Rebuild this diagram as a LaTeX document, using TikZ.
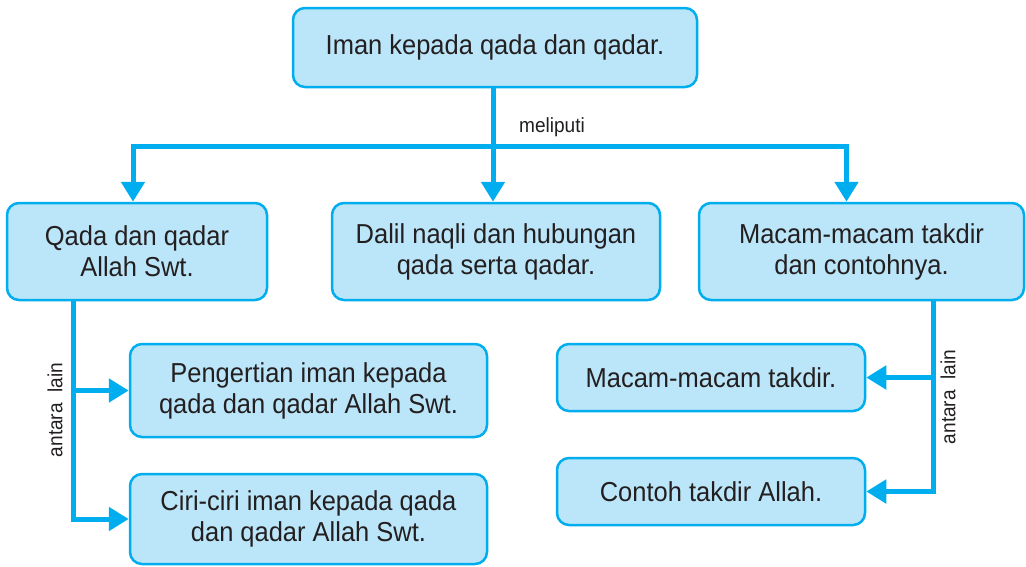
\documentclass[tikz,border=0pt]{standalone}
\usepackage{fontspec}
\setmainfont{Liberation Sans}
\newfontfamily\boxfont[FakeStretch=0.93]{Liberation Sans}
\usetikzlibrary{arrows.meta}
\definecolor{cyanline}{HTML}{00AEEF}
\definecolor{boxfill}{HTML}{BBE5F8}
\definecolor{ink}{HTML}{231F20}
\tikzset{
  box/.style={draw=cyanline, fill=boxfill, line width=2.5pt, rounded corners=12pt,
    inner sep=0pt, align=center, text=ink,
    font=\boxfont\fontsize{27.4}{31}\selectfont},
  conn/.style={draw=cyanline, line width=5pt},
  arr/.style={conn, -{Triangle[length=20pt,width=23pt]}},
  lbl/.style={text=ink, inner sep=0pt, font=\boxfont\fontsize{20.5}{22}\selectfont},
}
\begin{document}
\begin{tikzpicture}[x=1pt,y=-1pt]
\useasboundingbox (0,0) rectangle (1026,566);

% boxes
\node[box, minimum width=404pt, minimum height=79pt] (top) at (495,47.5) {Iman kepada qada dan qadar.};
\node[box, minimum width=260pt, minimum height=97pt] (left) at (137,251.5) {Qada dan qadar\\Allah Swt.};
\node[box, minimum width=328pt, minimum height=97pt] (mid) at (496,251.5) {Dalil naqli dan hubungan\\qada serta qadar.};
\node[box, minimum width=325pt, minimum height=97pt] (right) at (861.5,251.5) {Macam-macam takdir\\dan contohnya.};
\node[box, minimum width=357pt, minimum height=93pt] (peng) at (308.5,390.5) {Pengertian iman kepada\\qada dan qadar Allah Swt.};
\node[box, minimum width=357pt, minimum height=90pt] (ciri) at (308.5,519) {Ciri-ciri iman kepada qada\\dan qadar Allah Swt.};
\node[box, minimum width=308pt, minimum height=67pt] (mac) at (711,377.5) {Macam-macam takdir.};
\node[box, minimum width=308pt, minimum height=67pt] (cont) at (711,491.5) {Contoh takdir Allah.};

% trunk and branches
\coordinate (hub) at (493,146);
\draw[conn] ([xshift=-2pt]top.south) -- (hub);
\draw[arr] (hub) -| ([xshift=-4pt]left.north);
\draw[arr] (hub) -- (hub |- mid.north);
\draw[arr] (hub) -| ([xshift=-15pt]right.north);

\coordinate (lt) at ([xshift=-64pt]left.south);
\draw[arr] (lt) |- (peng.west);
\draw[arr] (lt) |- (ciri.west);

\coordinate (rt) at ([xshift=71.5pt]right.south);
\draw[arr] (rt) |- (mac.east);
\draw[arr] (rt) |- (cont.east);

% labels
\node[lbl] (meli) at (552,127) {meliputi};
\node[lbl, rotate=90] (al1) at (55,410) {antara\ \ lain};
\node[lbl, rotate=90] (al2) at (948,397) {antara\ \ lain};
\end{tikzpicture}
\end{document}
